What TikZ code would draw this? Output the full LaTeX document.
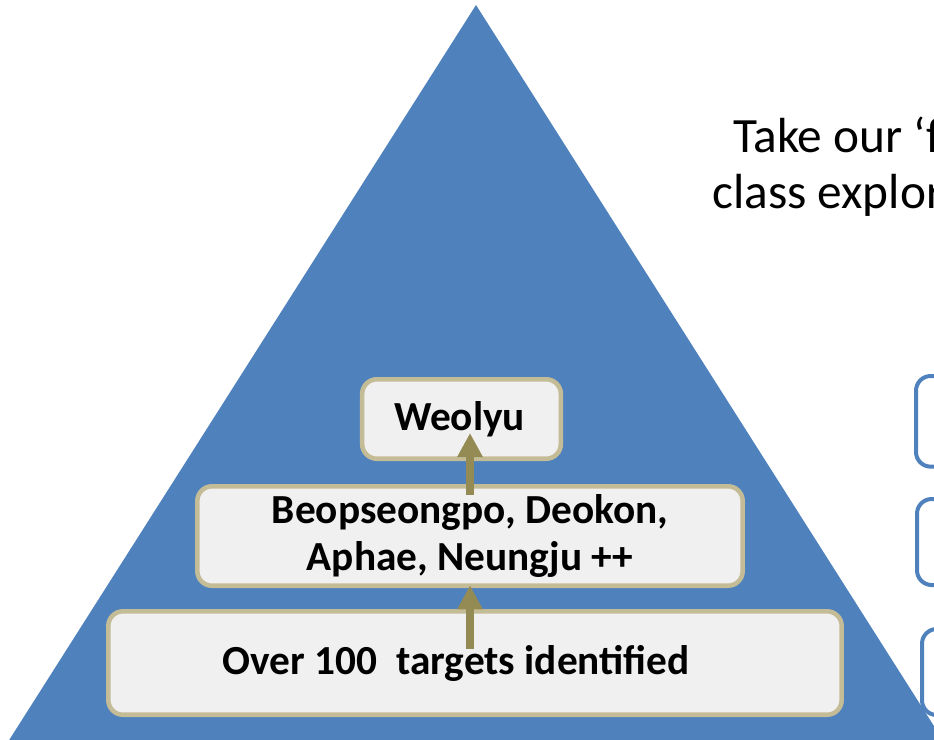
\documentclass[tikz,border=0pt]{standalone}
\usepackage{fontspec}
\setmainfont{Carlito}
\usetikzlibrary{positioning}
\usetikzlibrary{arrows.meta,calc}
\definecolor{pyrblue}{HTML}{4F81BD}
\definecolor{tierfill}{HTML}{F0F0F0}
\definecolor{tierline}{HTML}{C4BC96}
\definecolor{risercol}{HTML}{948A54}
\tikzstyle{tier}=[rectangle,rounded corners=11pt,draw=tierline,fill=tierfill,line width=3.4pt,font=\fontsize{31}{35}\selectfont\bfseries,align=center,inner sep=0pt]
\tikzstyle{sidebox}=[rectangle,rounded corners=11pt,draw=pyrblue,line width=3pt,minimum width=150pt,inner sep=0pt,anchor=north west]
\tikzstyle{riser}=[draw=risercol,line width=6.5pt,-{Triangle[width=18pt,length=18pt]}]
\tikzstyle{lead}=[font=\fontsize{37}{42}\selectfont,anchor=base west,inner sep=0pt]

\begin{document}
\begin{tikzpicture}[x=0.75pt,y=-0.75pt]
\useasboundingbox (0,0) rectangle (934,739);
\clip (0,0) rectangle (934,739);

%pyramid
\fill[pyrblue] (476,5) -- (6,745) -- (946,745) -- cycle;

%heading, cut at the edge
\node[lead] (take) at (733,152) {Take our ‘f};
\node[lead] (cls) at (712,208) {class explor};

%side boxes
    \foreach \pos/\name/\boxh in {{(914,374)/sideA/68pt}, {(915,497)/sideB/64.5pt}, {(920,627)/sideC/64.5pt}}
        \node[sidebox, minimum height=\boxh] (\name) at \pos {};

%tiers
    \foreach \pos/\name/\boxw/\boxh/\label in {{(475,663)/over/550pt/77.6pt/{Over 100\ \ targets identified\hspace*{28pt}}}, {(470,536)/mid/409pt/74.6pt/{Beopseongpo, Deokon,\\Aphae, Neungju ++}}, {(461.5,419)/top/149pt/59.6pt/{Weolyu\hspace*{3pt}}}}
        \node[tier, minimum width=\boxw, minimum height=\boxh] (\name) at \pos {\label};

  \draw[riser] ([yshift=-30pt]over.north -| mid.south) -- ([yshift=2pt]mid.south);
  \draw[riser] ([yshift=-8pt]mid.north) -- ([yshift=21pt]top.south -| mid.north);

\end{tikzpicture}
\end{document}
